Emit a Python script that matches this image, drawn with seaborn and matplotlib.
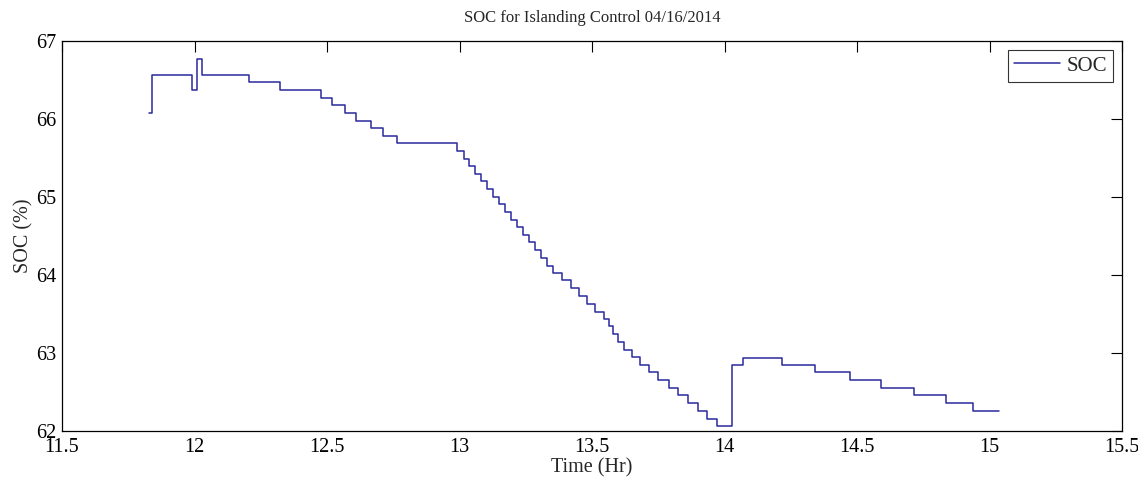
import matplotlib
matplotlib.use("Agg")
import matplotlib.pyplot as plt
import seaborn as sns
import pandas as pd

# Time (hours) at which each SOC level begins, and the SOC level (%) held from then on
time_hr = [
    11.828, 11.841, 11.990, 12.008, 12.027, 12.206, 12.324, 12.476, 12.520, 12.566,
    12.609, 12.665, 12.710, 12.763,
    12.992, 13.015, 13.037, 13.060, 13.082, 13.105, 13.127, 13.150, 13.172, 13.195,
    13.217, 13.240, 13.262, 13.285, 13.307, 13.330, 13.353, 13.386, 13.420, 13.452,
    13.482, 13.511, 13.545, 13.565, 13.580, 13.599, 13.621, 13.650, 13.681, 13.716,
    13.749, 13.792, 13.826, 13.863, 13.901, 13.933, 13.971,
    14.027, 14.071, 14.216, 14.342, 14.474, 14.590, 14.715, 14.836, 14.939, 15.036,
]
soc_pct = [
    66.08, 66.57, 66.37, 66.77, 66.57, 66.47, 66.37, 66.27, 66.18, 66.08,
    65.98, 65.88, 65.78, 65.69,
    65.59, 65.49, 65.40, 65.30, 65.20, 65.10, 65.00, 64.91, 64.81, 64.71,
    64.61, 64.51, 64.42, 64.32, 64.22, 64.12, 64.02, 63.93, 63.83, 63.73,
    63.63, 63.53, 63.44, 63.34, 63.24, 63.14, 63.04, 62.95, 62.85, 62.75,
    62.65, 62.55, 62.46, 62.36, 62.26, 62.16, 62.06,
    62.84, 62.94, 62.84, 62.75, 62.65, 62.55, 62.46, 62.36, 62.26, 62.26,
]

x_ticks = [11.5, 12, 12.5, 13, 13.5, 14, 14.5, 15, 15.5]
x_tick_labels = ["11.5", "12", "12.5", "13", "13.5", "14", "14.5", "15", "15.5"]
y_ticks = [62, 63, 64, 65, 66, 67]

sns.set_style("white")
plt.rcParams["font.family"] = ["Liberation Serif", "DejaVu Serif"]
plt.rcParams["xtick.direction"] = "in"
plt.rcParams["ytick.direction"] = "in"

df = pd.DataFrame({"Time (Hr)": time_hr, "SOC": soc_pct})

fig = plt.figure(figsize=(11.38, 4.82), dpi=100)
ax = fig.add_axes([0.0545, 0.1058, 0.9315, 0.8092])

sns.lineplot(data=df, x="Time (Hr)", y="SOC", ax=ax, drawstyle="steps-post",
             color="#2a2a9e", linewidth=1.1, label="SOC", estimator=None, sort=False)

ax.set_xlim(11.5, 15.5)
ax.set_ylim(62, 67)
ax.set_xticks(x_ticks)
ax.set_xticklabels(x_tick_labels)
ax.set_yticks(y_ticks)
ax.tick_params(axis="both", which="both", direction="in", length=8, width=0.8,
               top=True, right=True, labelsize=14.5, colors="black")
ax.tick_params(axis="x", pad=5)
ax.tick_params(axis="y", pad=4)
for s in ax.spines.values():
    s.set_visible(True)
    s.set_color("black")
    s.set_linewidth(0.9)

ax.set_xlabel("Time (Hr)", fontsize=14.5, labelpad=1)
ax.set_ylabel("SOC (%)", fontsize=14.5, labelpad=2)
ax.set_title("SOC for Islanding Control 04/16/2014", fontsize=12, pad=14)

leg = ax.legend(loc="upper right", fontsize=15, frameon=True, fancybox=False,
                edgecolor="black", borderaxespad=0.45, handlelength=2.2,
                handletextpad=0.3, borderpad=0.28)
leg.get_frame().set_linewidth(0.8)

fig.savefig("out.png", dpi=100)
